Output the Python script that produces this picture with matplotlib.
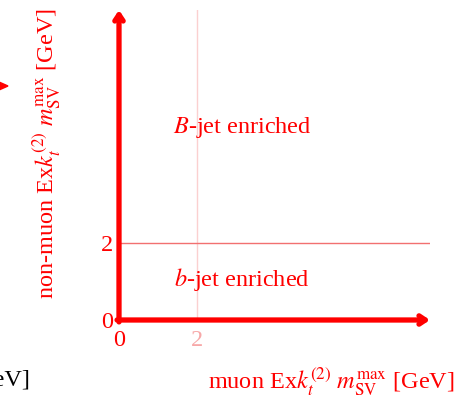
import matplotlib
matplotlib.use("Agg")
import matplotlib.pyplot as plt
from matplotlib.patches import Polygon

plt.rcParams['font.family'] = ['Liberation Serif', 'DejaVu Serif']
plt.rcParams['mathtext.fontset'] = 'stix'

W, H = 462, 397
RED = '#ff0000'
FS = 17.5

x_cut = 2
y_cut = 2
xticks = [0, 2]
yticks = [0, 2]
region_labels = [r'$B$-jet enriched', r'$b$-jet enriched']
region_pos = [(3.15, 5.0), (3.15, 1.05)]

fig = plt.figure(figsize=(W/100, H/100), dpi=100)

def px(x, y):
    return x / W, 1 - y / H

x0, y0 = px(119, 320)
x1, y1 = px(430, 10)
ax = fig.add_axes([x0, y0, x1 - x0, y1 - y0])
xmax = (430 - 119) / 39.0
ymax = (320 - 10) / 38.5
ax.set_xlim(0, xmax)
ax.set_ylim(0, ymax)
for s in ax.spines.values():
    s.set_visible(False)

ax.plot([x_cut, x_cut], [0, ymax], color='#fbd0d0', lw=1.0, zorder=1)
ax.plot([0, xmax], [y_cut, y_cut], color='#f27070', lw=1.0, zorder=1)

ax.annotate('', xy=(xmax, 0), xytext=(-0.05, 0),
            arrowprops=dict(arrowstyle='->,head_length=0.45,head_width=0.3',
                            color=RED, lw=3.8, shrinkA=0, shrinkB=0),
            annotation_clip=False)
ax.annotate('', xy=(0, ymax), xytext=(0, -0.05),
            arrowprops=dict(arrowstyle='->,head_length=0.45,head_width=0.3',
                            color=RED, lw=3.8, shrinkA=0, shrinkB=0),
            annotation_clip=False)

ax.set_xticks(xticks)
ax.set_xticklabels([str(t) for t in xticks], fontsize=FS)
ax.set_yticks(yticks)
ax.set_yticklabels([str(t) for t in yticks], fontsize=FS, color=RED)
ax.tick_params(axis='y', length=0, pad=4)
ax.tick_params(axis='x', length=0, pad=7)
xl = ax.get_xticklabels()
xl[0].set_color(RED)
xl[1].set_color('#f7a8a8')

for lab, (lx, ly) in zip(region_labels, region_pos):
    ax.text(lx, ly, lab, color=RED, fontsize=FS, ha='center', va='center')

fig.text(*px(47, 154), r'non-muon Ex$k_t^{(2)}$ $m_{\rm SV}^{\rm max}$ [GeV]',
         rotation=90, color=RED, fontsize=FS, ha='center', va='center')
fig.text(*px(455, 382), r'muon Ex$k_t^{(2)}$ $m_{\rm SV}^{\rm max}$ [GeV]',
         color=RED, fontsize=FS, ha='right', va='center')
fig.text(*px(30, 380), '[GeV]', color='black', fontsize=FS, ha='right', va='center')

tri = Polygon([px(-10, 78), px(8, 86), px(-10, 94)], closed=True,
              transform=fig.transFigure, color=RED, clip_on=False)
fig.patches.append(tri)

fig.savefig('out.png', dpi=100)
